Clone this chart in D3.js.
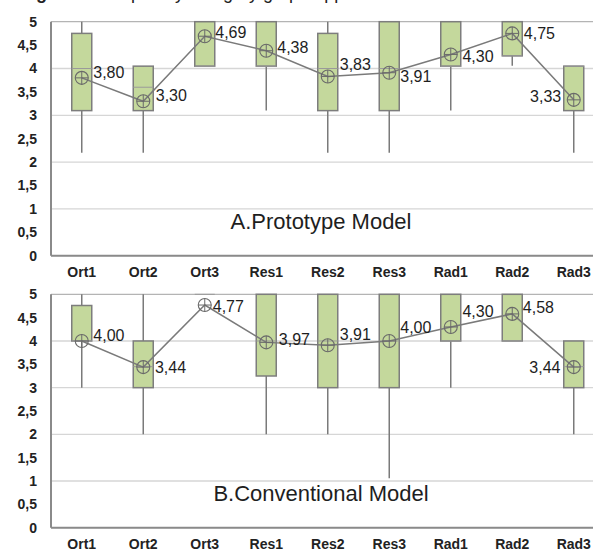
<!DOCTYPE html>
<html>
<head>
<meta charset="utf-8">
<script src="https://cdn.jsdelivr.net/npm/d3@7/dist/d3.min.js"></script>
<style>
  body { margin: 0; background: #fff; }
  svg { display: block; }
  text { font-family: "Liberation Sans", Arial, sans-serif; }
</style>
</head>
<body>
<svg id="chart" width="593" height="551"></svg>
<script>
// Questionnaire items on the x axis
const categories = ["Ort1", "Ort2", "Ort3", "Res1", "Res2", "Res3", "Rad1", "Rad2", "Rad3"];
const yTicks = [0, 0.5, 1, 1.5, 2, 2.5, 3, 3.5, 4, 4.5, 5];
const gridValues = [0, 1, 2, 3, 4, 5];

// A. Prototype model — five-number summaries and means
const protoMin    = [2.2, 2.2, 4.05, 3.1, 2.2, 2.2, 3.1, 4.06, 2.2];
const protoQ1     = [3.1, 3.1, 4.05, 4.05, 3.1, 3.1, 4.05, 4.27, 3.1];
const protoMedian = [4.0, 3.6, 4.05, 4.05, 4.0, 4.0, 4.05, 4.27, 4.05];
const protoQ3     = [4.75, 4.05, 5, 5, 4.75, 5, 5, 5, 4.05];
const protoMax    = [5, 4.05, 5, 5, 5, 5, 5, 5, 4.05];
const protoMean   = [3.80, 3.30, 4.69, 4.38, 3.83, 3.91, 4.30, 4.75, 3.33];

// B. Conventional model — five-number summaries and means
const convMin    = [3.0, 2.0, 5, 2.0, 2.0, 1.06, 3.0, 4.0, 2.0];
const convQ1     = [4.0, 3.0, 5, 3.25, 3.0, 3.0, 4.0, 4.0, 3.0];
const convMedian = [4.0, 3.45, 5, 4.0, 4.0, 4.0, 4.0, 4.0, 3.45];
const convQ3     = [4.76, 4.0, 5, 5, 5, 5, 5, 5, 4.0];
const convMax    = [5, 5, 5, 5, 5, 5, 5, 5, 4.0];
const convMean   = [4.00, 3.44, 4.77, 3.97, 3.91, 4.00, 4.30, 4.58, 3.44];

// Where each mean label sits relative to its marker: [dx, dy, anchor]
const protoLabelPos = [[11.5, 0.6, "start"], [12.5, 0, "start"], [10.5, 2, "start"], [11, 2.7, "start"],
                       [12, -6.3, "start"], [11, 9.7, "start"], [11.7, 7.3, "start"], [11.6, 5.9, "start"],
                       [-12.5, 2.6, "end"]];
const convLabelPos  = [[11.6, 0, "start"], [11.7, 6.1, "start"], [8, 6.7, "start"], [12.6, 2.6, "start"],
                       [12, -5.2, "start"], [11, -7.7, "start"], [11.7, -9.7, "start"], [10.6, -0.6, "start"],
                       [-13.3, 6.1, "end"]];

const fmt = d => String(d).replace(".", ",");
const fmt2 = d => d3.format(".2f")(d).replace(".", ",");

const svg = d3.select("#chart");

// Caption line running off the top of the figure
const cap = svg.append("text").attr("x", 20).attr("y", -1.5).style("font-size", "18px").attr("fill", "#222");
cap.append("tspan").style("font-weight", "bold").text("Figure 4.");
cap.append("tspan").text(" Boxplot by category graph approach");

const x = d3.scaleBand().domain(categories).range([51, 604.5]).paddingInner(0).paddingOuter(0);
const boxW = 20;

const panels = [
  { title: "A.Prototype Model", top: 21.7, bottom: 255.7,
    min: protoMin, q1: protoQ1, med: protoMedian, q3: protoQ3, max: protoMax, mean: protoMean, lab: protoLabelPos },
  { title: "B.Conventional Model", top: 294.3, bottom: 527.7,
    min: convMin, q1: convQ1, med: convMedian, q3: convQ3, max: convMax, mean: convMean, lab: convLabelPos }
];

panels.forEach(p => {
  const y = d3.scaleLinear().domain([0, 5]).range([p.bottom, p.top]);
  const g = svg.append("g");
  const cx = c => x(c) + x.bandwidth() / 2;

  // horizontal gridlines
  g.selectAll("line.grid").data(gridValues).join("line")
    .attr("class", "grid")
    .attr("x1", x.range()[0]).attr("x2", x.range()[1])
    .attr("y1", d => y(d)).attr("y2", d => y(d))
    .attr("stroke", d => d === 5 ? "#b4b4b4" : "#d6d6d6")
    .attr("stroke-width", 1.3);

  // y axis labels
  const yAxis = g.append("g").attr("transform", `translate(${x.range()[0]},0)`)
    .call(d3.axisLeft(y).tickValues(yTicks).tickFormat(fmt).tickSize(0).tickPadding(14));
  yAxis.select(".domain").remove();
  yAxis.selectAll("text").style("font-size", "14px").style("font-weight", "bold")
    .style("font-family", "'Liberation Sans', Arial, sans-serif").attr("fill", "#222");

  // x axis labels
  const xAxis = g.append("g").attr("transform", `translate(0,${p.bottom})`)
    .call(d3.axisBottom(x).tickSize(0).tickPadding(11));
  xAxis.select(".domain").remove();
  xAxis.selectAll("text").style("font-size", "14px").style("font-weight", "bold")
    .style("font-family", "'Liberation Sans', Arial, sans-serif").attr("fill", "#222");

  // whiskers
  g.selectAll("line.whisker").data(categories).join("line")
    .attr("class", "whisker")
    .attr("x1", cx).attr("x2", cx)
    .attr("y1", (c, i) => y(p.min[i])).attr("y2", (c, i) => y(p.max[i]))
    .attr("stroke", "#7a7a7a").attr("stroke-width", 1.5);

  // boxes
  g.selectAll("rect.box").data(categories).join("rect")
    .attr("class", "box")
    .attr("x", c => cx(c) - boxW / 2).attr("width", boxW)
    .attr("y", (c, i) => y(p.q3[i]))
    .attr("height", (c, i) => Math.max(0, y(p.q1[i]) - y(p.q3[i])))
    .attr("fill", "#c4d89c").attr("stroke", "#7d7d7d").attr("stroke-width", 1.5);

  // medians
  g.selectAll("line.median").data(categories).join("line")
    .attr("class", "median")
    .attr("x1", c => cx(c) - boxW / 2).attr("x2", c => cx(c) + boxW / 2)
    .attr("y1", (c, i) => y(p.med[i])).attr("y2", (c, i) => y(p.med[i]))
    .attr("stroke", "#9a9a9a").attr("stroke-width", 1);

  // axis lines
  g.append("line").attr("x1", x.range()[0]).attr("x2", x.range()[0])
    .attr("y1", y(5)).attr("y2", y(0)).attr("stroke", "#8a8a8a").attr("stroke-width", 2);
  g.append("line").attr("x1", x.range()[0]).attr("x2", x.range()[1])
    .attr("y1", y(0)).attr("y2", y(0)).attr("stroke", "#8a8a8a").attr("stroke-width", 2);

  // line joining the means
  const line = d3.line().x((d, i) => cx(categories[i])).y(d => y(d));
  g.append("path").datum(p.mean).attr("d", line)
    .attr("fill", "none").attr("stroke", "#7a7a7a").attr("stroke-width", 1.5);

  // mean markers: circle with a cross
  const r = 6.5;
  const mk = g.selectAll("g.mean").data(categories).join("g")
    .attr("class", "mean")
    .attr("transform", (c, i) => `translate(${cx(c)},${y(p.mean[i])})`);
  mk.append("circle").attr("r", r).attr("fill", "none").attr("stroke", "#6a6a6a").attr("stroke-width", 1.1);
  mk.append("line").attr("x1", -r).attr("x2", r).attr("stroke", "#6a6a6a").attr("stroke-width", 1);
  mk.append("line").attr("y1", -r).attr("y2", r).attr("stroke", "#6a6a6a").attr("stroke-width", 1);

  // mean value labels
  g.selectAll("text.val").data(categories).join("text")
    .attr("class", "val")
    .attr("x", (c, i) => cx(c) + p.lab[i][0])
    .attr("y", (c, i) => y(p.mean[i]) + p.lab[i][1])
    .attr("text-anchor", (c, i) => p.lab[i][2])
    .style("font-size", "16px").attr("fill", "#1e1e1e")
    .text((c, i) => fmt2(p.mean[i]));

  // panel title
  g.append("text").attr("x", 321).attr("y", p.bottom - 27)
    .attr("text-anchor", "middle").style("font-size", "22px").attr("fill", "#1e1e1e")
    .text(p.title);
});
</script>
</body>
</html>
